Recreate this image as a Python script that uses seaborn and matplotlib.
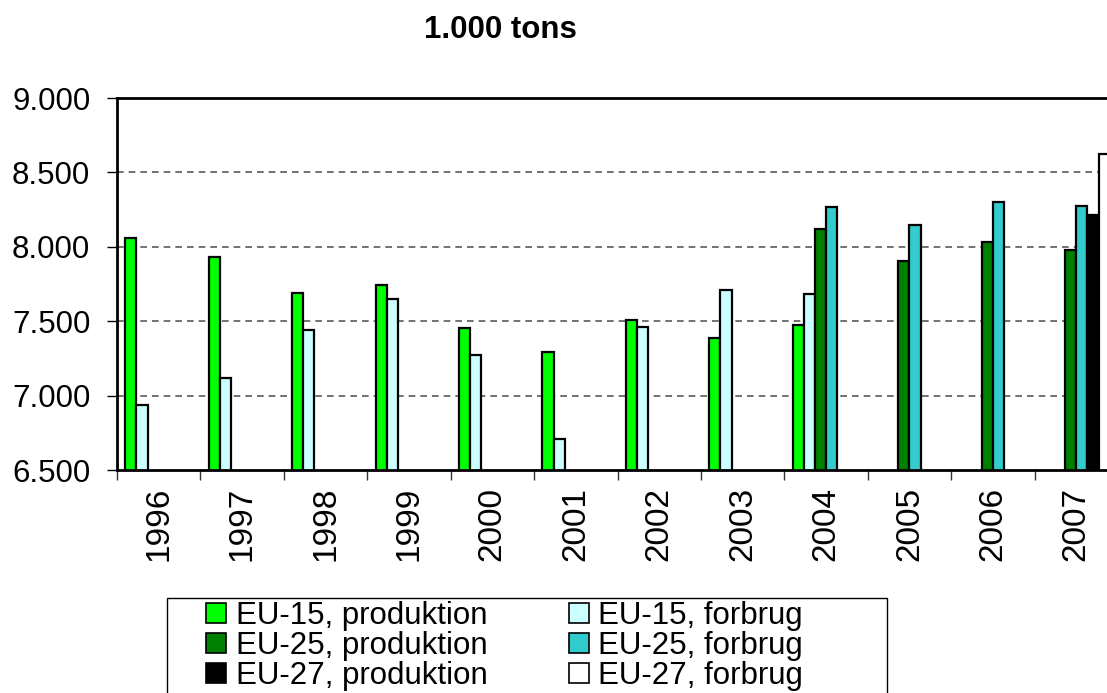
import matplotlib
matplotlib.use("Agg")
import matplotlib.pyplot as plt
from matplotlib.patches import Patch, Rectangle
from matplotlib.ticker import FuncFormatter, FixedLocator
import seaborn as sns
import pandas as pd
import numpy as np

# data (1.000 tons)
years = ["1996", "1997", "1998", "1999", "2000", "2001",
         "2002", "2003", "2004", "2005", "2006", "2007"]
nan = np.nan
eu15_prod = [8060, 7933, 7688, 7740, 7457, 7290, 7509, 7390, 7475, nan, nan, nan]
eu15_forb = [6935, 7115, 7441, 7650, 7273, 6709, 7459, 7711, 7684, nan, nan, nan]
eu25_prod = [nan, nan, nan, nan, nan, nan, nan, nan, 8122, 7904, 8034, 7980]
eu25_forb = [nan, nan, nan, nan, nan, nan, nan, nan, 8266, 8149, 8299, 8277]
eu27_prod = [nan, nan, nan, nan, nan, nan, nan, nan, nan, nan, nan, 8212]
eu27_forb = [nan, nan, nan, nan, nan, nan, nan, nan, nan, nan, nan, 8623]

series = ["EU-15, produktion", "EU-15, forbrug",
          "EU-25, produktion", "EU-25, forbrug",
          "EU-27, produktion", "EU-27, forbrug"]
colors = ["#00FF00", "#CCFFFF", "#008000", "#33CCCC", "#000000", "#FFFFFF"]

rows = []
for name, vals in zip(series, [eu15_prod, eu15_forb, eu25_prod, eu25_forb, eu27_prod, eu27_forb]):
    for y, v in zip(years, vals):
        rows.append({"year": y, "series": name, "value": v})
df = pd.DataFrame(rows).dropna()

sns.set_style("white", rc={"text.color": "black", "xtick.color": "black",
                           "ytick.color": "black", "axes.labelcolor": "black"})
plt.rcParams["font.family"] = ["Liberation Sans", "DejaVu Sans"]

W, H = 1107, 693
fig = plt.figure(figsize=(W / 100, H / 100), dpi=100)
ax = fig.add_axes([117 / W, 1 - 470 / H, (1118 - 117) / W, (470 - 98) / H])

sns.barplot(data=df, x="year", y="value", hue="series", order=years,
            hue_order=series, palette=colors, width=0.8, errorbar=None,
            edgecolor="black", linewidth=1.6, saturation=1, ax=ax, legend=False)

ax.set_ylim(6500, 9000)
ax.set_xlim(-0.5, len(years) - 0.5)
ax.set_yticks([6500, 7000, 7500, 8000, 8500, 9000])
ax.yaxis.set_major_formatter(FuncFormatter(lambda v, p: f"{int(v):,}".replace(",", ".")))
for g in [7000, 7500, 8000, 8500]:
    ax.axhline(g, color="#5a5a5a", lw=1.2, ls=(0, (4, 3)), zorder=0)

ax.set_xlabel("")
ax.set_ylabel("")
ax.tick_params(axis="y", which="major", direction="out", length=7.2, width=1,
               labelsize=22.5, pad=12, left=True)
ax.tick_params(axis="x", which="major", length=0, labelsize=24, pad=12,
               labelrotation=90)
ax.xaxis.set_minor_locator(FixedLocator(np.arange(-0.5, len(years), 1)))
ax.tick_params(axis="x", which="minor", direction="out", length=7.2, width=1,
               bottom=True, color="#333333")

for side in ["left", "bottom", "top"]:
    ax.spines[side].set_color("black")
    ax.spines[side].set_linewidth(2)
ax.spines["right"].set_visible(False)

fig.text(500 / W, 1 - 30 / H, "1.000 tons", ha="center", va="center",
         fontsize=22.5, fontweight="bold")

# legend frame (runs off the bottom of the picture)
fig.patches.append(Rectangle((167 / W, -0.05), (887 - 167) / W, 0.05 + 1 - 598 / H,
                             transform=fig.transFigure, facecolor="white",
                             edgecolor="black", linewidth=1, zorder=1))
handles = [Patch(facecolor=c, edgecolor="black", linewidth=1.2) for c in colors]
order = [0, 2, 4, 1, 3, 5]
leg = fig.legend([handles[i] for i in order], [series[i] for i in order],
                 ncol=2, loc="upper left", bbox_to_anchor=(206 / W, 1 - 601 / H),
                 frameon=False, fontsize=22.5,
                 handlelength=0.65, handleheight=0.65, handletextpad=0.3,
                 labelspacing=0.0, columnspacing=2.6, borderpad=0,
                 borderaxespad=0)
leg.set_zorder(2)

fig.savefig("out.png", dpi=100)
